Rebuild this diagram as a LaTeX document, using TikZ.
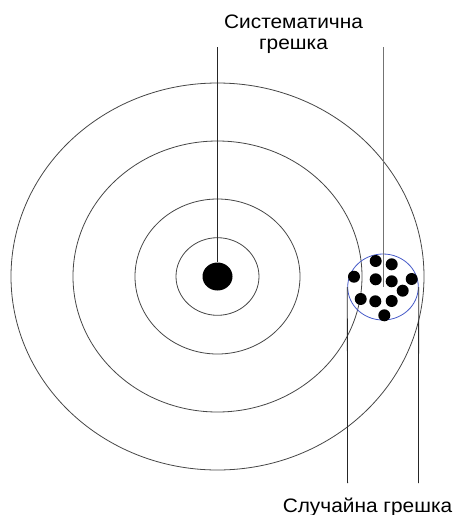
\documentclass[tikz,border=0pt]{standalone}
\usepackage{fontspec}
\setmainfont{Liberation Sans}[FakeStretch=1.07]
\usetikzlibrary{shapes.geometric}
\definecolor{ringgray}{RGB}{70,70,70}
\definecolor{clusterblue}{RGB}{70,90,200}
\begin{document}
\begin{tikzpicture}[x=1pt,y=-1pt,
  ring/.style={draw=ringgray,line width=0.8pt},
  shot/.style={circle,fill=black,inner sep=0pt,minimum size=12pt},
  pointer/.style={draw=black!85,line width=0.8pt},
  label/.style={font=\fontsize{19.5}{21}\selectfont,inner sep=0pt,text=black}]
\useasboundingbox (0,0) rectangle (456,515);
% target rings
\draw[ring] (217.5,276.5) ellipse [x radius=206.5pt, y radius=193.5pt];
\draw[ring] (217.5,276.5) ellipse [x radius=144.5pt, y radius=135.5pt];
\draw[ring] (217.5,276.5) ellipse [x radius=82.5pt, y radius=77.5pt];
\draw[ring] (217.5,276.5) ellipse [x radius=41.5pt, y radius=38.8pt];
% bullseye
\node[ellipse,fill=black,inner sep=0pt,minimum width=30pt,minimum height=28pt] (bull) at (217.5,276.5) {};
% cluster
\node[ellipse,draw=clusterblue,line width=0.8pt,inner sep=0pt,minimum width=70.6pt,minimum height=66pt] (cluster) at (383,287) {};
\node[shot] (d1) at (375.7,261) {};
\node[shot] (d2) at (391.7,264.3) {};
\node[shot] (d3) at (354,276.7) {};
\node[shot] (d4) at (375.7,279.3) {};
\node[shot] (d5) at (391.7,281.3) {};
\node[shot] (d6) at (411.7,279) {};
\node[shot] (d7) at (402.7,290.7) {};
\node[shot] (d8) at (360.7,299) {};
\node[shot] (d9) at (375.3,301.3) {};
\node[shot] (d10) at (391.7,301) {};
\node[shot] (d11) at (384.3,315.3) {};
% labels
\node[label,align=center,anchor=north] (sys) at (293.5,15) {Систематична\\грешка};
\node[label,anchor=base] (rnd) at (367.5,512) {Случайна грешка};
% connector ends
\coordinate (s1) at (217.5,47);
\coordinate (s2) at (383,47);
\coordinate (r1) at (347.6,483);
\coordinate (r2) at (418.4,483);
\draw[pointer] (s1) -- (bull);
\draw[pointer,draw=black!55] (s2) -- (cluster.center);
\draw[pointer] (cluster.west) -- (r1);
\draw[pointer] (cluster.east) -- (r2);
\end{tikzpicture}
\end{document}
